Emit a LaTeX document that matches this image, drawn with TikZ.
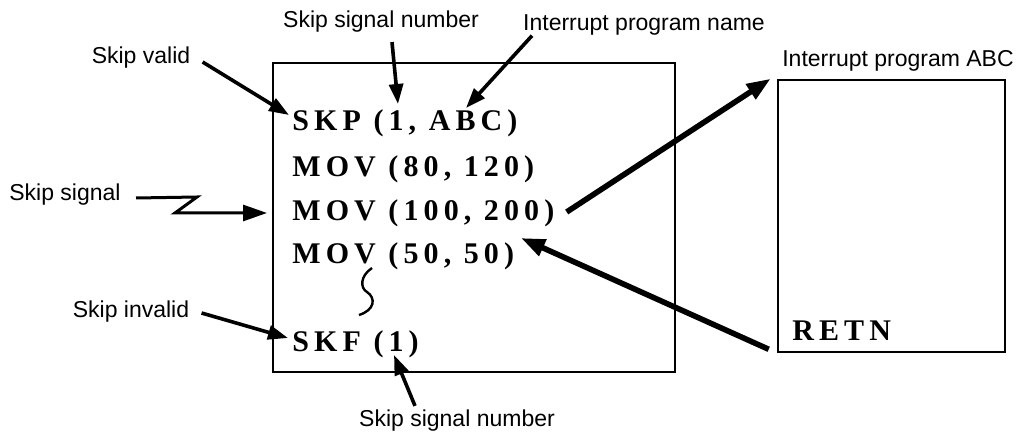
\documentclass[tikz,border=0pt]{standalone}
\usepackage{fontspec}
\setmainfont{Liberation Sans}
\newfontfamily\codefont[LetterSpace=17]{Liberation Serif}
\usetikzlibrary{arrows.meta}

\tikzset{
  lbl/.style={font=\fontsize{11.5}{13}\selectfont, inner sep=0pt},
  code/.style={font=\codefont\bfseries\fontsize{15}{17}\selectfont, inner sep=0pt, anchor=west},
  frame/.style={draw, line width=1.3pt, inner sep=0pt},
  ptr/.style={line width=1.8pt, -{Triangle[length=10pt,width=7pt]}},
  jump/.style={line width=2.8pt, -{Triangle[length=12pt,width=8.5pt]}},
}

\begin{document}
\begin{tikzpicture}[x=0.5pt,y=-0.5pt]
\useasboundingbox (0,0) rectangle (1019,433);
% program boxes
\node[frame, minimum width=201pt, minimum height=154.5pt] (main) at (474,217.5) {};
\node[frame, minimum width=113.5pt, minimum height=136pt] (prog) at (891.5,216) {};
% program lines
\node[code] (skp) at (292,123) {SKP (1, ABC)};
\node[code] (mov1) at (292,169) {MOV (80, 120)};
\node[code] (mov2) at (292,213) {MOV (100, 200)};
\node[code] (mov3) at (292,256) {MOV (50, 50)};
\node[code] (skf) at (292,344) {SKF (1)};
\node[code] (retn) at (792,331) {RETN};
% labels
\node[lbl] (valid) at (141,58) {Skip valid};
\node[lbl] (signal) at (65,195) {Skip signal};
\node[lbl] (invalid) at (131,312) {Skip invalid};
\node[lbl] (numtop) at (381,22) {Skip signal number};
\node[lbl] (name) at (644,25) {Interrupt program name};
\node[lbl] (numbot) at (457,421) {Skip signal number};
\node[lbl] (abc) at (898,61) {Interrupt program ABC};
% arrow tips
\coordinate (tValid) at (289,115);
\coordinate (tNum) at (398,104);
\coordinate (tName) at (466,108);
\coordinate (tInvalid) at (288,338);
\coordinate (tNumB) at (394,355);
\coordinate (tRet) at (521,238);
\coordinate (zz1) at (197,197);
\coordinate (zz2) at (175,213);
\coordinate (tSig) at (267,213);

\draw[ptr] ([shift={(6pt,-2pt)}]valid.east) -- (tValid);
\draw[ptr] ([shift={(5.5pt,-4.5pt)}]numtop.south) -- (tNum);
\draw[ptr] ([xshift=-56pt]name.south) -- (tName);
\draw[ptr] ([shift={(6pt,-0.5pt)}]invalid.east) -- (tInvalid);
\draw[ptr] ([shift={(-21pt,2pt)}]numbot.north) -- (tNumB);
\draw[ptr, line width=1.5pt, -{Triangle[length=12pt,width=8pt]}] ([shift={(7.5pt,-1.5pt)}]signal.east) -- (zz1) -- (zz2) -- (tSig);
\draw[jump] ([shift={(6pt,0.5pt)}]mov2.east) -- ([xshift=-3pt]prog.north west);
\draw[jump] ([shift={(-4pt,2pt)}]prog.south west) -- (tRet);
% omitted lines
\draw[line width=1.2pt] (372,268) .. controls (360,276) and (360,288) .. (367,292)
  .. controls (376,298) and (375,310) .. (359,315);
\end{tikzpicture}
\end{document}
